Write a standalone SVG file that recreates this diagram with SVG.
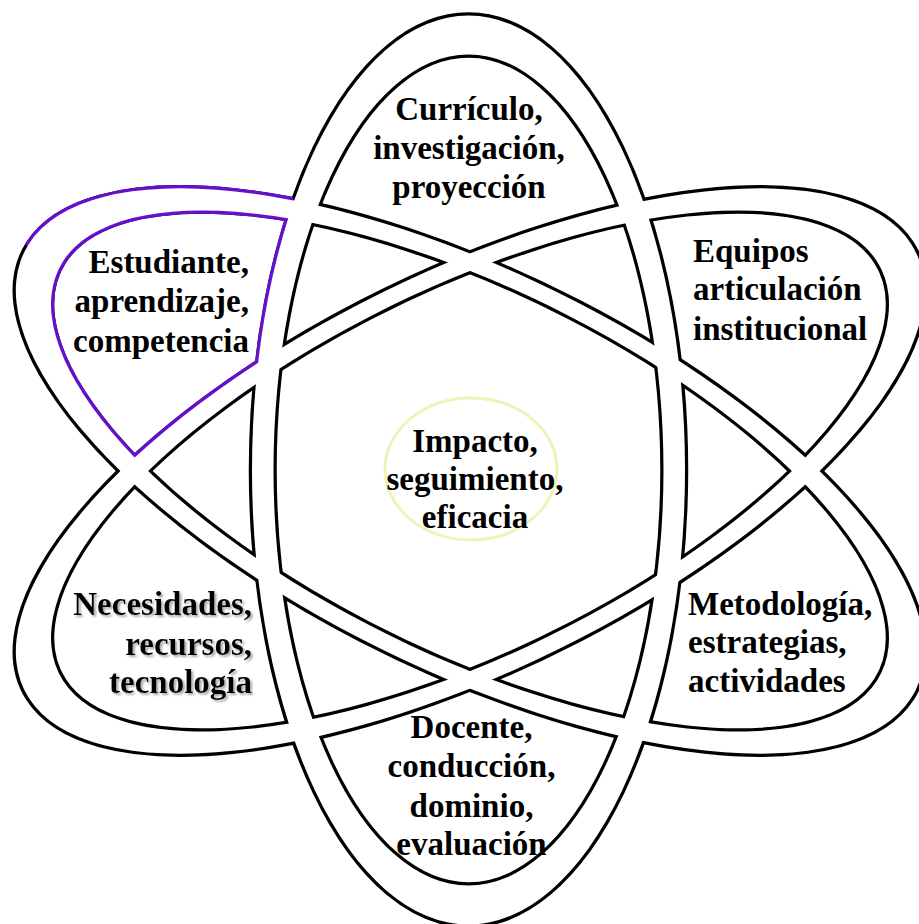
<svg xmlns="http://www.w3.org/2000/svg" width="919" height="924" viewBox="0 0 919 924">
<style>
.ln{fill:none;stroke:#000;stroke-width:6.5;vector-effect:non-scaling-stroke;stroke-linejoin:miter}
.pl{fill:none;stroke:#6610cc;stroke-width:6.5;vector-effect:non-scaling-stroke}
.band{fill:#fff;stroke:none;fill-rule:evenodd}
.lbl{font-family:"Liberation Serif","Times New Roman",serif;font-weight:bold;font-size:33px;fill:#000}
</style>
<defs>
<clipPath id="purpleClip">
<polygon points="270,90 0,90 0,222 45,262 38,320 65,387 100,435 133,470 200,417 265,367 281,290 300,212 293,199"/>
</clipPath>
<filter id="shadow" x="-10%" y="-10%" width="120%" height="130%">
<feDropShadow dx="2" dy="2" stdDeviation="0.8" flood-color="#9a9a9a" flood-opacity="0.85"/>
</filter>
</defs>
<rect width="919" height="924" fill="#fff"/>
<g id="connectors">
<g id="ring-lines">
<path class="ln" transform="translate(468.5,470)" d="M-216.5,0A216.5,454.5 0 1 0 216.5,0A216.5,454.5 0 1 0 -216.5,0ZM-195,0A195,415.5 0 1 0 195,0A195,415.5 0 1 0 -195,0Z"/>
<path class="ln" transform="translate(470,471) scale(1.12,1) rotate(60)" d="M-194,0A194,454.5 0 1 0 194,0A194,454.5 0 1 0 -194,0ZM-178.5,0A178.5,419.5 0 1 0 178.5,0A178.5,419.5 0 1 0 -178.5,0Z"/>
<path class="ln" transform="translate(470,471) scale(1.12,1) rotate(-60)" d="M-194,0A194,454.5 0 1 0 194,0A194,454.5 0 1 0 -194,0ZM-178.5,0A178.5,419.5 0 1 0 178.5,0A178.5,419.5 0 1 0 -178.5,0Z"/>
</g>
<g id="purple-lines" clip-path="url(#purpleClip)">
<path class="pl" transform="translate(468.5,470)" d="M-216.5,0A216.5,454.5 0 1 0 216.5,0A216.5,454.5 0 1 0 -216.5,0Z"/>
<path class="pl" transform="translate(470,471) scale(1.12,1) rotate(60)" d="M-194,0A194,454.5 0 1 0 194,0A194,454.5 0 1 0 -194,0Z"/>
<path class="pl" transform="translate(470,471) scale(1.12,1) rotate(-60)" d="M-194,0A194,454.5 0 1 0 194,0A194,454.5 0 1 0 -194,0ZM-178.5,0A178.5,419.5 0 1 0 178.5,0A178.5,419.5 0 1 0 -178.5,0Z"/>
</g>
<g id="ring-bands">
<path class="band" transform="translate(468.5,470)" d="M-216.5,0A216.5,454.5 0 1 0 216.5,0A216.5,454.5 0 1 0 -216.5,0ZM-195,0A195,415.5 0 1 0 195,0A195,415.5 0 1 0 -195,0Z"/>
<path class="band" transform="translate(470,471) scale(1.12,1) rotate(60)" d="M-194,0A194,454.5 0 1 0 194,0A194,454.5 0 1 0 -194,0ZM-178.5,0A178.5,419.5 0 1 0 178.5,0A178.5,419.5 0 1 0 -178.5,0Z"/>
<path class="band" transform="translate(470,471) scale(1.12,1) rotate(-60)" d="M-194,0A194,454.5 0 1 0 194,0A194,454.5 0 1 0 -194,0ZM-178.5,0A178.5,419.5 0 1 0 178.5,0A178.5,419.5 0 1 0 -178.5,0Z"/>
</g>
</g>
<g id="node-curriculo">
<text class="lbl" text-anchor="middle"><tspan x="469" y="120">Currículo,</tspan><tspan x="469" y="159">investigación,</tspan><tspan x="469" y="198">proyección</tspan></text>
</g>
<g id="node-estudiante">
<text class="lbl" text-anchor="end"><tspan x="249" y="273">Estudiante,</tspan><tspan x="249" y="312">aprendizaje,</tspan><tspan x="249" y="352">competencia</tspan></text>
</g>
<g id="node-equipos">
<text class="lbl"><tspan x="693" y="262">Equipos</tspan><tspan x="693" y="300">articulación</tspan><tspan x="693" y="340">institucional</tspan></text>
</g>
<g id="node-impacto">
<ellipse cx="471" cy="469" rx="86" ry="71" fill="none" stroke="#eef4b8" stroke-width="3"/>
<text class="lbl" text-anchor="middle"><tspan x="475" y="452">Impacto,</tspan><tspan x="475" y="490">seguimiento,</tspan><tspan x="475" y="528">eficacia</tspan></text>
</g>
<g id="node-necesidades">
<text class="lbl" text-anchor="end" filter="url(#shadow)"><tspan x="252" y="615">Necesidades,</tspan><tspan x="252" y="655">recursos,</tspan><tspan x="252" y="693">tecnología</tspan></text>
</g>
<g id="node-metodologia">
<text class="lbl"><tspan x="688" y="615">Metodología,</tspan><tspan x="688" y="653">estrategias,</tspan><tspan x="688" y="692">actividades</tspan></text>
</g>
<g id="node-docente">
<text class="lbl" text-anchor="middle"><tspan x="471.5" y="738">Docente,</tspan><tspan x="471.5" y="777">conducción,</tspan><tspan x="471.5" y="817">dominio,</tspan><tspan x="471.5" y="855">evaluación</tspan></text>
</g>
</svg>
